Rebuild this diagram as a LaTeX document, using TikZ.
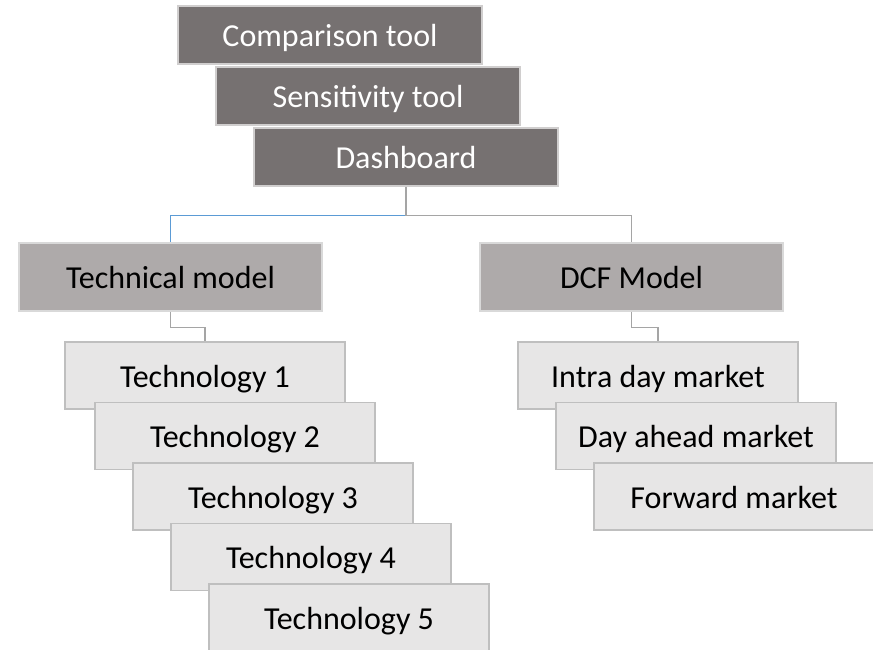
\documentclass[tikz,border=0pt]{standalone}
\usepackage{fontspec}
\setmainfont{Carlito}
\usetikzlibrary{positioning,calc}
\definecolor{toolFill}{HTML}{767171}
\definecolor{toolBorder}{HTML}{D0CECE}
\definecolor{modelFill}{HTML}{AEAAAA}
\definecolor{modelBorder}{HTML}{D9D9D9}
\definecolor{itemFill}{HTML}{E7E6E6}
\definecolor{itemBorder}{HTML}{BFBFBF}
\definecolor{linkGray}{HTML}{A5A5A5}
\definecolor{linkBlue}{HTML}{5B9BD5}

\begin{document}
\begin{tikzpicture}[
    x=1pt, y=-1pt,
    block/.style={
        rectangle, draw,
        inner sep=0pt, align=center,
        text height=26pt, text depth=3pt,
        line width=1.5pt, font=\fontsize{32}{38}\selectfont
    },
    toolbox/.style={block, fill=toolFill, draw=toolBorder, text=white,
        minimum width=304pt, minimum height=58pt},
    modelbox/.style={block, fill=modelFill, draw=modelBorder,
        minimum width=303pt, minimum height=68pt},
    itembox/.style={block, fill=itemFill, draw=itemBorder,
        minimum width=280pt, minimum height=67pt},
    link/.style={line width=1.2pt, draw=linkGray}
]
  \useasboundingbox (0,0) rectangle (873,649);

  % Tool stack
  \node[toolbox] (comp) at (330,35) {Comparison tool};
  \node[toolbox] (sens) at ([shift={(38,61)}]comp.center) {Sensitivity tool};
  \node[toolbox] (dash) at ([shift={(38,61)}]sens.center) {Dashboard};

  % Models
  \node[modelbox] (tech) at (170.5,277) {Technical model};
  \node[modelbox] (dcf) at (631.5,277) {DCF Model};

  % Technologies
  \node[itembox] (tech1) at (205,375.5) {Technology 1};
  \node[itembox] (tech2) at ([shift={(30,60.5)}]tech1.center) {Technology 2};
  \node[itembox] (tech3) at ([shift={(38,60.5)}]tech2.center) {Technology 3};
  \node[itembox] (tech4) at ([shift={(38,60.5)}]tech3.center) {Technology 4};
  \node[itembox] (tech5) at ([shift={(38,60.5)}]tech4.center) {Technology 5};

  % Markets
  \node[itembox] (intra) at (658,375.5) {Intra day market};
  \node[itembox] (ahead) at ([shift={(38,60.5)}]intra.center) {Day ahead market};
  \node[itembox] (fwd) at ([shift={(38,60.5)}]ahead.center) {Forward market};

  % Dashboard to models
  \coordinate (split) at ($(dash.south)+(0,29)$);
  \draw[link, draw=linkBlue] (split) -| (tech.north);
  \draw[link] (dash.south) -- (split) -| (dcf.north);

  % Models to first items
  \draw[link] (tech.south) -- ++(0,16) -| (tech1.north);
  \draw[link] (dcf.south) -- ++(0,16) -| (intra.north);

\end{tikzpicture}
\end{document}
